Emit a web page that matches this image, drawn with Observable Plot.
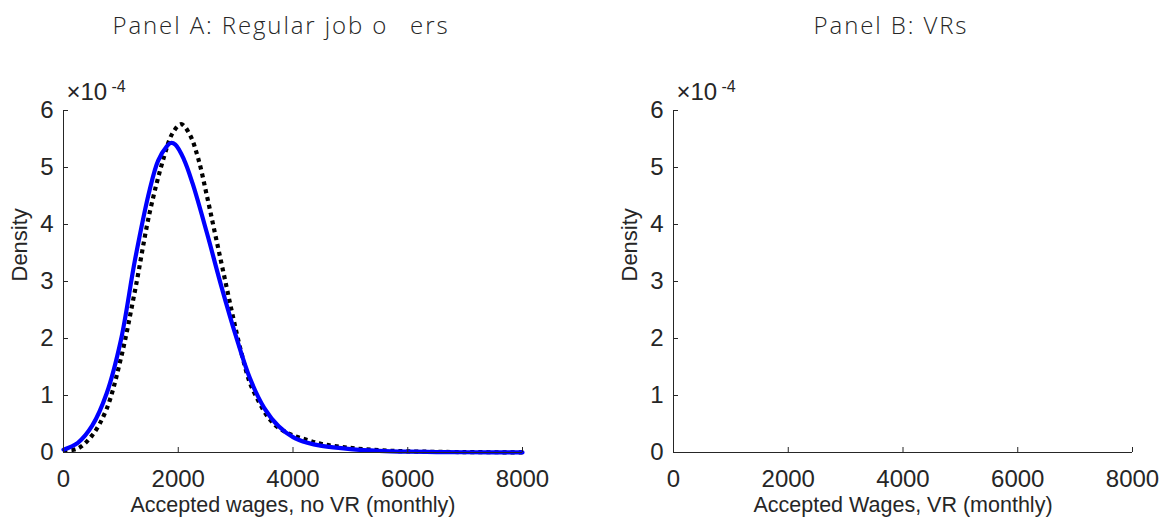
<!DOCTYPE html>
<html><head><meta charset="utf-8">
<script src="https://cdn.jsdelivr.net/npm/d3@7"></script>
<script src="https://cdn.jsdelivr.net/npm/@observablehq/plot@0.6"></script>
<style>
html,body{margin:0;padding:0;background:#fff;}
#wrap{display:flex;width:1165px;height:524px;overflow:hidden;}
#wrap svg{display:block;}
</style></head><body><div id="wrap"></div>
<script>
// ---- data (density in units of 1e-4) ----
const wageTicks = [0, 2000, 4000, 6000, 8000];
const densityTicks = [0, 1, 2, 3, 4, 5, 6];
const exponentBase = "×10";
const exponentPower = "-4";
const titles = ["Panel A: Regular job o\u2002\u2005ers", "Panel B: VRs"];
const xLabels = ["Accepted wages, no VR (monthly)", "Accepted Wages, VR (monthly)"];
const yLabel = "Density";

// blue solid curve
const blueWages   = [0, 250, 500, 750, 1000, 1250, 1500, 1650, 1800, 1870, 1950, 2100, 2250, 2500, 2750, 3000, 3250, 3500, 3750, 4000, 4250, 4500, 5000, 5500, 6000, 6500, 7000, 7500, 8000];
const blueDensity = [0.05, 0.17, 0.47, 1.03, 1.97, 3.4, 4.6, 5.12, 5.37, 5.43, 5.4, 5.14, 4.72, 3.85, 2.92, 2.06, 1.3, 0.78, 0.46, 0.27, 0.17, 0.115, 0.06, 0.03, 0.015, 0.008, 0.004, 0.002, 0.001];
// black dotted curve
const dotWages   = [0, 250, 500, 750, 1000, 1250, 1500, 1750, 1900, 2050, 2200, 2350, 2500, 2650, 2800, 2950, 3100, 3250, 3400, 3550, 3700, 3850, 4000, 4250, 4500, 5000, 5500, 6000, 7000, 8000];
const dotDensity = [0.03, 0.07, 0.3, 0.76, 1.65, 2.86, 4.2, 5.18, 5.6, 5.76, 5.58, 5.15, 4.5, 3.8, 3.1, 2.4, 1.75, 1.22, 0.9, 0.64, 0.47, 0.37, 0.3, 0.22, 0.15, 0.08, 0.04, 0.02, 0.007, 0.003];

const blueSeries = blueWages.map((w, i) => ({w, d: blueDensity[i]}));
const dotSeries  = dotWages.map((w, i) => ({w, d: dotDensity[i]}));

const INK = "#262626";
const FONT = "'Liberation Sans', Arial, Helvetica, sans-serif";
const H = 524, MT = 110, MB = 72;
const frameH = H - MT - MB;

function panel({width, marginLeft, marginRight, title, xLabel, dataMarks}) {
  const frameW = width - marginLeft - marginRight;
  return Plot.plot({
    width, height: H, marginLeft, marginRight, marginTop: MT, marginBottom: MB,
    x: {domain: [0, 8000]},
    y: {domain: [0, 6]},
    style: {fontFamily: FONT, color: INK, background: "white", overflow: "visible"},
    marks: [
      ...dataMarks,
      Plot.ruleY([0], {stroke: INK, strokeWidth: 1}),
      Plot.ruleX([0], {stroke: INK, strokeWidth: 1}),
      Plot.tickX(wageTicks, {x: d => d, insetTop: frameH - 5, stroke: INK}),
      Plot.tickY(densityTicks, {y: d => d, insetRight: frameW - 5, stroke: INK}),
      Plot.axisX(wageTicks, {tickSize: 0, tickPadding: 17, fontSize: 24, fill: INK, tickFormat: d => String(d), label: null}),
      Plot.axisY(densityTicks, {tickSize: 0, tickPadding: 10, fontSize: 24, fill: INK, tickFormat: d => String(d), label: null}),
      Plot.text([xLabel], {frameAnchor: "bottom", dy: 59, lineAnchor: "bottom", fontSize: 21.5, fill: INK}),
      Plot.text([yLabel], {frameAnchor: "left", dx: -44, rotate: -90, lineAnchor: "middle", fontSize: 22, fill: INK}),
      Plot.text([exponentBase], {frameAnchor: "top-left", dx: 3, dy: -10.7, textAnchor: "start", lineAnchor: "bottom", fontSize: 24, fill: INK}),
      Plot.text([exponentPower], {frameAnchor: "top-left", dx: 48, dy: -19, textAnchor: "start", lineAnchor: "bottom", fontSize: 16, fill: INK}),
      Plot.text([title], {frameAnchor: "top", dx: -12, dy: -(MT - 33), lineAnchor: "bottom", fontSize: 24, fontWeight: 300, fontFamily: "'Open Sans', 'Noto Sans', sans-serif", fill: INK})
    ]
  });
}

const left = panel({
  width: 582, marginLeft: 63, marginRight: 60, title: titles[0], xLabel: xLabels[0],
  dataMarks: [
    Plot.line(dotSeries, {x: "w", y: "d", stroke: "black", strokeWidth: 4.2, strokeDasharray: "4 4", strokeLinecap: "butt", curve: "catmull-rom"}),
    Plot.line(blueSeries, {x: "w", y: "d", stroke: "#0000ff", strokeWidth: 4.2, curve: "catmull-rom"})
  ]
});
const right = panel({
  width: 583, marginLeft: 91, marginRight: 33, title: titles[1], xLabel: xLabels[1],
  dataMarks: []
});
const wrap = document.getElementById("wrap");
wrap.append(left, right);
d3.selectAll("#wrap text").filter(function(){ return titles.includes(this.textContent); })
  .style("letter-spacing", "1.9px");
</script>
</body></html>
